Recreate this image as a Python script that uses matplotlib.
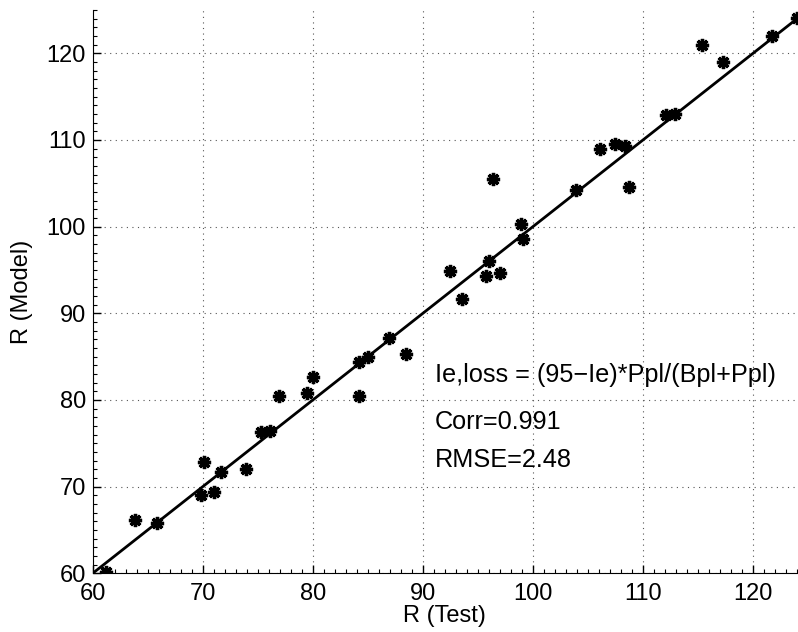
import matplotlib
matplotlib.use("Agg")
import matplotlib.pyplot as plt
from matplotlib.ticker import MultipleLocator

r_test = [61.2, 63.85, 65.8, 69.85, 70.1, 71.05, 71.65, 73.9, 75.3, 76.1,
          76.9, 79.5, 80.05, 84.2, 84.2, 85.05, 86.9, 88.5, 92.5, 93.55,
          95.7, 96.05, 97.0, 96.4, 98.95, 99.1, 103.9, 106.1, 107.5, 108.4,
          108.7, 112.1, 112.9, 115.4, 117.3, 121.7, 124.0]
r_model = [60.2, 66.2, 65.8, 69.0, 72.85, 69.35, 71.65, 72.0, 76.3, 76.4,
           80.45, 80.8, 82.7, 80.5, 84.4, 85.0, 87.2, 85.3, 94.9, 91.6,
           94.35, 96.0, 94.6, 105.45, 100.3, 98.6, 104.2, 109.0, 109.5, 109.25,
           104.6, 112.9, 113.0, 121.0, 119.0, 122.0, 124.05]
fit_line = [60, 124]
notes = ["Ie,loss = (95\u2212Ie)*Ppl/(Bpl+Ppl)", "Corr=0.991", "RMSE=2.48"]
note_y = [82.9, 77.5, 73.1]

plt.rcParams["font.family"] = ["Liberation Sans", "DejaVu Sans"]
plt.rcParams["font.size"] = 17

fig = plt.figure(figsize=(7.98, 6.32), dpi=100)
ax = fig.add_axes([0.1162, 0.0929, 0.8826, 0.8913])

ax.plot(fit_line, fit_line, color="black", lw=2)
ax.plot(r_test, r_model, linestyle="none", marker=(8, 2, 0), markersize=9.5,
        markeredgewidth=2.4, color="black")

for txt, y in zip(notes, note_y):
    ax.text(91.1, y, txt, va="center", ha="left", fontsize=18.2)

ax.set_xlim(60, 124)
ax.set_ylim(60, 125)
ax.xaxis.set_major_locator(MultipleLocator(10))
ax.yaxis.set_major_locator(MultipleLocator(10))
ax.xaxis.set_minor_locator(MultipleLocator(1))
ax.yaxis.set_minor_locator(MultipleLocator(1))
ax.tick_params(which="major", direction="in", length=6, width=1)
ax.tick_params(which="minor", direction="in", length=3, width=0.8)
ax.tick_params(axis="x", which="major", pad=7)
ax.tick_params(axis="y", which="major", pad=5)
ax.grid(True, which="major", linestyle=(0, (1, 4)), color="#555555", lw=0.8)
ax.spines["top"].set_visible(False)
ax.spines["right"].set_visible(False)

ax.set_xlabel("R (Test)", labelpad=0)
ax.set_ylabel("R (Model)", labelpad=10)

plt.savefig("out.png", dpi=100)
